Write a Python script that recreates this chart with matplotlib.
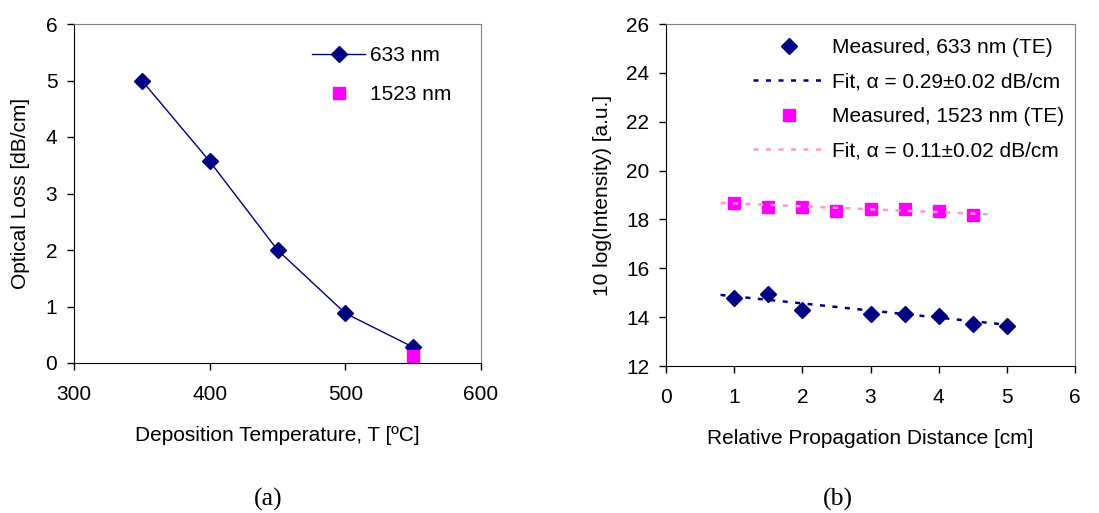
import matplotlib
matplotlib.use("Agg")
import matplotlib.pyplot as plt

plt.rcParams['font.family'] = ['Liberation Sans', 'DejaVu Sans']

# ---- data: panel (a)
temp_633 = [350, 400, 450, 500, 550]
loss_633 = [5.0, 3.57, 2.0, 0.88, 0.28]
temp_1523 = [550]
loss_1523 = [0.12]

# ---- data: panel (b)
dist_633 = [1, 1.5, 2, 3, 3.5, 4, 4.5, 5]
int_633 = [14.79, 14.94, 14.30, 14.14, 14.14, 14.05, 13.73, 13.64]
dist_1523 = [1, 1.5, 2, 2.5, 3, 3.5, 4, 4.5]
int_1523 = [18.68, 18.52, 18.52, 18.35, 18.42, 18.42, 18.35, 18.17]
fit_x_633 = [0.8, 5.1]
fit_y_633 = [14.91, 13.66]
fit_x_1523 = [0.8, 4.8]
fit_y_1523 = [18.68, 18.20]

NAVY = '#000080'
MAG = '#FF00FF'
PINK = '#FF99CC'
W, H = 1099, 513

fig = plt.figure(figsize=(W / 100, H / 100), dpi=100)


def px_axes(l, t, r, b):
    return fig.add_axes([l / W, 1 - b / H, (r - l) / W, (b - t) / H])


FS = 15


def style(ax):
    for s in ['top', 'right']:
        ax.spines[s].set_color('#808080')
    for s in ['left', 'bottom']:
        ax.spines[s].set_color('black')
    ax.tick_params(direction='out', length=5, width=1, labelsize=FS, top=False, right=False)
    ax.tick_params(axis='x', pad=11)
    ax.tick_params(axis='y', pad=7)


# ---- panel (a)
ax1 = px_axes(74, 24, 481, 363)
style(ax1)
ax1.plot(temp_633, loss_633, color=NAVY, lw=1, marker='D', ms=8, mfc=NAVY, mec=NAVY, label='633 nm')
ax1.plot(temp_1523, loss_1523, ls='none', marker='s', ms=8, color=MAG, label='1523 nm')
ax1.set_xlim(300, 600)
ax1.set_ylim(0, 6)
ax1.set_xticks([300, 400, 500, 600])
ax1.set_yticks(range(0, 7))
ax1.set_xlabel('Deposition Temperature, T [ºC]', fontsize=FS, labelpad=16)
ax1.set_ylabel('Optical Loss [dB/cm]', fontsize=FS, labelpad=11)
ax1.legend(loc='upper left', bbox_to_anchor=(312 / W, 1 - 46 / H), bbox_transform=fig.transFigure,
           frameon=False, fontsize=FS, handlelength=2.55, handletextpad=0.25, labelspacing=0.98,
           borderpad=0, borderaxespad=0)

# ---- panel (b)
ax2 = px_axes(666, 24, 1075, 366)
style(ax2)
ax2.plot(dist_633, int_633, ls='none', marker='D', ms=8, color=NAVY, label='Measured, 633 nm (TE)')
ax2.plot(fit_x_633, fit_y_633, color=NAVY, lw=1.8, dashes=(2, 3), label='Fit, α = 0.29±0.02 dB/cm')
ax2.plot(dist_1523, int_1523, ls='none', marker='s', ms=8.5, color=MAG, label='Measured, 1523 nm (TE)')
ax2.plot(fit_x_1523, fit_y_1523, color=PINK, lw=1.8, dashes=(2, 3), label='Fit, α = 0.11±0.02 dB/cm')
ax2.set_xlim(0, 6)
ax2.set_ylim(12, 26)
ax2.set_xticks(range(0, 7))
ax2.set_yticks(range(12, 27, 2))
ax2.set_xlabel('Relative Propagation Distance [cm]', fontsize=FS, labelpad=16)
ax2.set_ylabel('10 log(Intensity) [a.u.]', fontsize=FS, labelpad=10)
ax2.legend(loc='upper left', bbox_to_anchor=(753 / W, 1 - 38 / H), bbox_transform=fig.transFigure,
           frameon=False, fontsize=FS, handlelength=3.46, handletextpad=0.34, labelspacing=0.74,
           borderpad=0, borderaxespad=0)

fig.text(268 / W, 1 - 499 / H, '(a)', family='Liberation Serif', fontsize=18.5, ha='center', va='center')
fig.text(838 / W, 1 - 499 / H, '(b)', family='Liberation Serif', fontsize=18.5, ha='center', va='center')

fig.savefig('out.png', dpi=100)
